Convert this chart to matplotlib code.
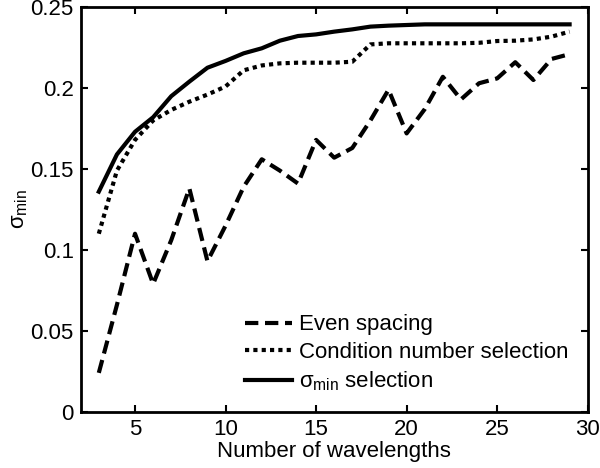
import numpy as np
from matplotlib import pyplot as plt

plt.rcParams['font.family'] = ['Liberation Sans', 'DejaVu Sans']
plt.rcParams['mathtext.fontset'] = 'custom'
plt.rcParams['mathtext.rm'] = 'Liberation Sans'
plt.rcParams['mathtext.it'] = 'Liberation Sans:italic'

# number of wavelengths
n_wl = list(range(3, 30))

# Even spacing
even = [0.024, 0.066, 0.110, 0.079, 0.106, 0.138, 0.093, 0.115, 0.139, 0.156,
        0.149, 0.141, 0.168, 0.157, 0.163, 0.180, 0.199, 0.172, 0.187, 0.207,
        0.193, 0.203, 0.206, 0.216, 0.205, 0.218, 0.221]

# Condition number selection
cond = [0.110, 0.149, 0.168, 0.180, 0.1865, 0.1916, 0.196, 0.201, 0.211, 0.214,
        0.2153, 0.2157, 0.2157, 0.2157, 0.2163, 0.227, 0.2277, 0.2277, 0.2277, 0.2277,
        0.2277, 0.228, 0.2291, 0.2293, 0.2301, 0.2318, 0.2349]

# sigma_min selection
smin = [0.136, 0.159, 0.173, 0.182, 0.195, 0.204, 0.2126, 0.2168, 0.2215, 0.2246,
        0.2293, 0.2322, 0.2332, 0.2349, 0.2363, 0.238, 0.2386, 0.239, 0.2394, 0.2394,
        0.2394, 0.2394, 0.2394, 0.2394, 0.2394, 0.2394, 0.2394]

labels = ["Even spacing", "Condition number selection", "σ$_{\\mathregular{min}}$ selection"]

fig = plt.figure(figsize=(6, 4.68), dpi=100)
ax = fig.add_axes([0.1345, 0.1203, 0.845, 0.8643])

ax.plot(n_wl, even, color='black', lw=3.0, dashes=(3.2, 1.6))
ax.plot(n_wl, cond, color='black', lw=3.0, dashes=(1, 1))
ax.plot(n_wl, smin, color='black', lw=3.0)

ax.set_xlim(2, 30)
ax.set_ylim(0, 0.25)
ax.set_xticks([5, 10, 15, 20, 25, 30])
ax.set_yticks([0, 0.05, 0.1, 0.15, 0.2, 0.25])
ax.set_yticklabels(["0", "0.05", "0.1", "0.15", "0.2", "0.25"])
ax.tick_params(direction='in', top=True, right=True, labelsize=16, width=1.5, length=5, pad=5)
for s in ax.spines.values():
    s.set_linewidth(2.0)

ax.set_xlabel("Number of wavelengths", fontsize=16, labelpad=1)
ax.set_ylabel("σ$_{\\mathregular{min}}$", fontsize=16, labelpad=0)

ax.legend(labels, loc='lower right', bbox_to_anchor=(1.001, -0.004), frameon=False,
          fontsize=16, handlelength=2.1, handletextpad=0.3, labelspacing=0.3)

fig.savefig("out.png", dpi=100)
